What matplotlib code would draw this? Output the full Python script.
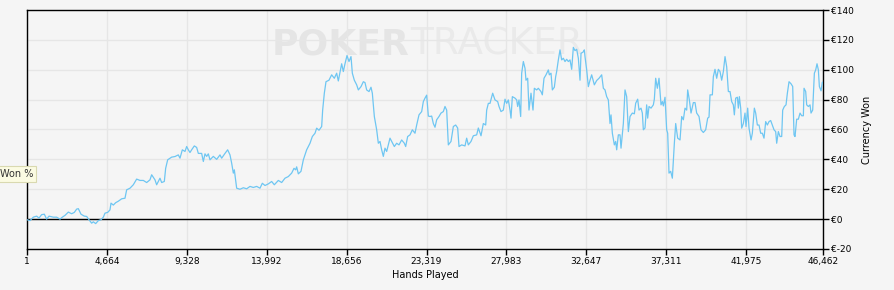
import matplotlib
matplotlib.use("Agg")
import matplotlib.pyplot as plt
from matplotlib.ticker import FixedLocator, FuncFormatter

hands = [1, 175, 370, 564, 700, 856, 1012, 1148, 1284, 1537, 1732, 1926, 2063, 2218, 2413, 2607,
         2763, 2899, 2997, 3152, 3347, 3483, 3619, 3775, 3872, 4009, 4164, 4320, 4456, 4553, 4709,
         4845, 4904, 5040, 5176, 5332, 5526,
         5720, 5817, 6012, 6206, 6401, 6596, 6790, 6985, 7179, 7277, 7471, 7568, 7763, 7860, 8016,
         8094, 8211, 8444, 8639, 8833, 8931, 9067, 9223, 9320, 9417, 9514, 9611, 9767, 9903, 10001,
         10195, 10293, 10390, 10487, 10584, 10682, 10876, 11071, 11265, 11363,
         11557, 11713, 11849, 11946, 12044, 12102, 12238, 12433, 12627, 12822, 13016, 13211, 13406,
         13600, 13736, 13892, 14087, 14281, 14437, 14670, 14865, 15059, 15254, 15448, 15585, 15682,
         15740, 15838, 15993, 16130, 16324, 16519, 16655, 16811, 16908, 17044, 17200, 17258, 17355,
         17452, 17627, 17783, 17939, 18075, 18172, 18367, 18464, 18561, 18678, 18795, 18912, 18990,
         19106, 19243, 19340, 19496, 19632, 19729, 19826, 19963, 20079, 20157, 20274, 20410, 20507,
         20605, 20702, 20799, 20896, 20994, 21091, 21188, 21285, 21441, 21577, 21713, 21869, 22025,
         22103, 22219, 22356, 22492, 22647, 22745, 22881, 23037, 23134,
         23231, 23328, 23426, 23523, 23620, 23717, 23815, 23912, 24048, 24165, 24301, 24398, 24496,
         24593, 24749, 24885, 25021, 25138, 25216, 25371, 25566, 25663, 25760, 25916, 26052, 26247,
         26344, 26500, 26636, 26773, 26831, 26928, 27025, 27122, 27181, 27317, 27473, 27551, 27667,
         27803, 27901, 27998, 28095, 28193, 28251, 28329, 28484, 28582, 28640, 28718, 28815, 28874,
         28971,
         29068, 29126, 29224, 29301, 29418, 29535, 29613, 29749, 29846, 30002, 30080, 30177, 30294,
         30430, 30488, 30586, 30664, 30780, 30858, 30916, 31014, 31111, 31208, 31306, 31403, 31500,
         31597, 31695, 31792, 31889, 31987, 32084, 32181, 32279, 32337, 32473, 32531, 32570, 32668,
         32765, 32862, 32959, 33115, 33251, 33388, 33543, 33641, 33738, 33835, 33932, 34030, 34088,
         34166, 34283, 34361, 34419, 34516, 34613, 34672, 34808,
         34905, 35002, 35100, 35197, 35333, 35450, 35528, 35644, 35722, 35839, 35917, 35975, 36072,
         36170, 36228, 36306, 36423, 36559, 36617, 36695, 36792, 36890, 37006, 37084, 37143, 37240,
         37337, 37396, 37473, 37571, 37668, 37785, 37863, 37979, 38116, 38213, 38310, 38407, 38505,
         38563, 38660, 38758, 38894, 38991, 39088, 39225, 39341, 39477, 39614, 39730, 39808, 39867,
         40003, 40061, 40158, 40256, 40353, 40450, 40547, 40645,
         40742, 40839, 40937, 41034, 41131, 41228, 41287, 41365, 41462, 41520, 41579, 41657, 41715,
         41812, 41909, 41968, 42065, 42143, 42260, 42337, 42454, 42532, 42629, 42727, 42824, 42921,
         43018, 43116, 43213, 43310, 43408, 43505, 43602, 43699, 43758, 43855, 43952, 44050, 44108,
         44205, 44303, 44381, 44478, 44595, 44692, 44770, 44828, 44925, 45023, 45120, 45217, 45315,
         45354, 45451, 45509, 45607, 45704, 45762, 45859, 45957, 46035, 46112, 46190, 46249, 46346,
         46424, 46462]

won = [-0.4, -1.0, 1.3, 2.0, 0.7, 3.0, 3.3, 0.0, 2.0, 1.3, 1.3, 0.0, 1.3, 2.5, 4.7, 3.6,
       4.5, 6.7, 7.0, 3.3, 2.0, 1.8, -0.4, -2.7, -1.8, -3.0, -1.0, -0.4, 1.3, 4.0, 4.5,
       6.2, 10.7, 9.4, 11.0, 12.0, 13.6,
       14.0, 19.6, 20.7, 23.0, 26.8, 25.9, 25.9, 24.5, 26.3, 29.7, 26.3, 23.0, 27.4, 24.5, 25.2,
       34.0, 39.7, 41.5, 41.9, 43.0, 40.8, 46.4, 45.3, 48.6, 46.4, 44.6, 46.4, 49.0, 48.0, 44.0,
       44.0, 38.6, 43.7, 42.0, 43.7, 39.7, 42.0, 40.0, 43.0, 40.8,
       44.0, 46.4, 43.0, 37.5, 30.8, 33.0, 20.7, 20.0, 21.0, 20.3, 21.9, 21.2, 21.9,
       20.7, 24.0, 22.5, 23.6, 25.2, 23.0, 25.9, 24.5, 27.4, 28.5, 30.8, 34.0, 33.0,
       35.0, 30.3, 32.0, 39.7, 46.4, 50.8, 55.3, 57.5, 60.9, 59.5, 62.0, 73.0, 84.3,
       92.0, 93.0, 96.6, 94.3, 97.7, 92.5, 104.0, 98.8, 104.0, 109.5, 105.5, 108.8, 97.7,
       93.0, 89.9, 86.5, 88.7, 92.0, 91.4, 86.5, 85.4, 88.3, 84.3, 68.7, 59.8, 50.8,
       52.0, 46.4, 42.0, 47.5, 45.3, 49.7, 54.2, 52.0, 48.6, 50.8, 49.7, 53.0, 50.8,
       48.6, 55.3, 56.4, 59.8, 57.5, 63.0, 69.8, 72.0, 78.7,
       81.0, 83.0, 69.0, 68.7, 69.0, 64.0, 61.5, 66.5, 68.7, 71.0, 72.0, 75.4, 73.0,
       49.7, 52.0, 62.0, 63.0, 61.0, 48.6, 49.7, 49.0, 54.2, 49.7, 52.0, 55.8, 56.4,
       61.0, 55.8, 64.0, 63.0, 73.0, 77.5, 77.5, 81.6, 84.3, 79.8, 78.7, 75.4, 72.0,
       73.0, 80.3, 77.5, 79.8, 73.0, 67.6, 82.0, 81.0, 79.8, 75.4, 79.8, 68.7, 97.7,
       105.5,
       101.0, 93.0, 94.3, 73.0, 84.3, 73.0, 87.6, 86.5, 87.6, 85.4, 83.2, 94.3, 96.6,
       99.9, 96.6, 97.7, 86.5, 88.3, 95.4, 98.8, 106.6, 113.3, 106.6, 107.7, 105.5, 107.0,
       105.5, 106.6, 100.3, 115.0, 112.8, 113.7, 107.7, 93.0, 111.0, 112.0, 113.3, 108.8, 99.9,
       88.7, 93.0, 96.6, 89.9, 92.8, 94.3, 96.6, 87.6, 86.5, 82.0, 79.8, 64.0, 69.8,
       57.5, 49.7, 52.0, 46.4, 56.4, 56.4, 47.5, 64.0,
       86.5, 82.0, 58.6, 68.7, 71.0, 70.5, 77.6, 80.3, 73.0, 74.3, 71.0, 59.8, 61.0,
       76.5, 67.6, 75.4, 74.3, 76.5, 80.3, 94.3, 87.6, 94.3, 76.5, 78.7, 75.8, 81.6,
       59.8, 57.5, 30.8, 32.0, 27.4, 50.8, 64.0, 54.2, 53.0, 68.7, 66.5, 74.3, 73.0,
       86.5, 79.8, 71.0, 78.0, 78.0, 71.0, 68.7, 59.8, 58.0, 59.8, 67.6, 68.3, 83.2,
       83.2, 95.4, 100.3, 94.3, 100.3, 98.8, 93.0, 98.8,
       108.8, 102.0, 85.4, 85.4, 78.7, 76.5, 69.8, 81.0, 81.6, 74.3, 82.0, 74.3, 60.9,
       64.0, 71.0, 62.0, 74.3, 60.9, 53.0, 57.5, 74.3, 71.0, 63.0, 63.0, 57.5, 57.5,
       54.2, 65.3, 63.0, 65.3, 66.0, 63.0, 59.8, 58.6, 50.8, 58.6, 55.3, 55.3, 73.0,
       75.4, 76.5, 84.3, 92.0, 90.6, 88.8, 56.4, 55.3, 66.9, 66.9, 71.0, 69.2, 69.2,
       87.6, 85.4, 76.5, 75.4, 76.5, 71.0, 73.0, 97.7, 99.9, 104.0, 99.9, 88.8, 85.9,
       91.7, 91.5]

x_ticks = [1, 4664, 9328, 13992, 18656, 23319, 27983, 32647, 37311, 41975, 46462]
y_ticks = [-20, 0, 20, 40, 60, 80, 100, 120, 140]

BG = "#f5f5f5"
fig = plt.figure(figsize=(8.94, 2.90), dpi=100, facecolor=BG)
ax = fig.add_axes([0.0302, 0.1414, 0.8904, 0.8241], facecolor=BG)

ax.set_xlim(1, 46462)
ax.set_ylim(-20, 140)

ax.xaxis.set_major_locator(FixedLocator(x_ticks))
ax.xaxis.set_major_formatter(FuncFormatter(lambda v, p: f"{int(round(v)):,}"))
ax.yaxis.set_major_locator(FixedLocator(y_ticks))
ax.yaxis.set_major_formatter(FuncFormatter(lambda v, p: f"€{int(round(v))}"))
ax.yaxis.tick_right()
ax.yaxis.set_label_position("right")

ax.grid(True, color="#e6e6e6", linewidth=1.0)
ax.set_axisbelow(True)

for s in ax.spines.values():
    s.set_color("black")
    s.set_linewidth(1.0)

ax.tick_params(axis="both", colors="black", labelsize=6.5, length=4, width=1, direction="out", pad=1.5)
ax.tick_params(axis="y", right=True, left=False)

# watermark
ax.text(0.481, 0.855, "POKER", transform=ax.transAxes, ha="right", va="center",
        fontsize=26, fontweight="bold", color="#e5e5e5", zorder=0.5)
ax.text(0.481, 0.855, "TRACKER", transform=ax.transAxes, ha="left", va="center",
        fontsize=27, color="#eaeaea", zorder=0.5)

ax.axhline(0, color="black", linewidth=1.0, zorder=2)
ax.plot(hands, won, color="#6ec6f2", linewidth=0.9, zorder=3)

ax.set_xlabel("Hands Played", fontsize=7, labelpad=3)
ax.set_ylabel("Currency Won", fontsize=7, labelpad=6)

fig.text(33 / 894, 1 - 174 / 290, "Won %", ha="right", va="center", fontsize=7,
         color="#333333",
         bbox=dict(boxstyle="square,pad=0.35", facecolor="#fbfbe2", edgecolor="#d9d9b0", linewidth=0.8))

fig.savefig("out.png", dpi=100, facecolor=BG)
